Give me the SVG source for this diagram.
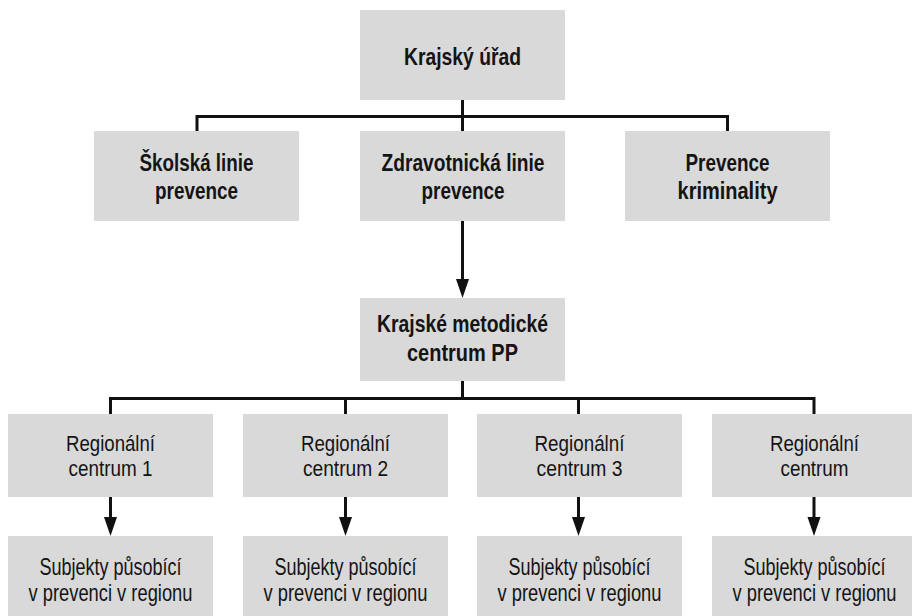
<svg xmlns="http://www.w3.org/2000/svg" width="912" height="616" viewBox="0 0 912 616">
  <style>
    .box { fill: #d9d9d9; }
    text { fill: #141414; text-anchor: middle; font-family: "Liberation Sans", Arial, sans-serif; }
    .b { font-weight: 700; font-size: 24.5px; }
    .r { font-weight: 400; font-size: 22px; }
    .s { font-weight: 400; font-size: 23px; }
    .ln { fill: none; stroke: #111; stroke-width: 3; }
  </style>
  <defs>
    <marker id="arr" markerUnits="userSpaceOnUse" markerWidth="20" markerHeight="16" refX="0" refY="7" orient="auto" viewBox="0 0 20 14">
      <path d="M0,0.5 L19,7 L0,13.5 z" fill="#111"/>
    </marker>
  </defs>
  <rect width="912" height="616" fill="#fff"/>

  <g id="connectors">
    <path class="ln" d="M462.5,100 V131 M197,131 V116.5 H727.5 V131"/>
    <line class="ln" x1="462.5" y1="221" x2="462.5" y2="279" marker-end="url(#arr)"/>
    <path class="ln" d="M462.5,381 V398.5 M110.5,414 V398.5 H814 V414 M345.5,398.5 V414 M578.5,398.5 V414"/>
    <line class="ln" x1="110.5" y1="497" x2="110.5" y2="517" marker-end="url(#arr)"/>
    <line class="ln" x1="345.5" y1="497" x2="345.5" y2="517" marker-end="url(#arr)"/>
    <line class="ln" x1="578.5" y1="497" x2="578.5" y2="517" marker-end="url(#arr)"/>
    <line class="ln" x1="814" y1="497" x2="814" y2="517" marker-end="url(#arr)"/>
  </g>

  <g id="krajsky-urad">
    <rect class="box" x="360" y="10" width="205" height="90"/>
    <text class="b" transform="translate(462.5,0) scale(0.78,1)"><tspan x="0" y="65" textLength="150" lengthAdjust="spacingAndGlyphs">Krajský úřad</tspan></text>
  </g>
  <g id="skolska-linie">
    <rect class="box" x="94" y="131" width="205" height="90"/>
    <text class="b" transform="translate(196.5,0) scale(0.78,1)"><tspan x="0" y="171" textLength="146.2" lengthAdjust="spacingAndGlyphs">Školská linie</tspan><tspan x="0" y="199" textLength="106.4" lengthAdjust="spacingAndGlyphs">prevence</tspan></text>
  </g>
  <g id="zdravotnicka-linie">
    <rect class="box" x="360" y="131" width="205" height="90"/>
    <text class="b" transform="translate(463,0) scale(0.78,1)"><tspan x="0" y="171" textLength="209" lengthAdjust="spacingAndGlyphs">Zdravotnická linie</tspan><tspan x="0" y="199" textLength="106.4" lengthAdjust="spacingAndGlyphs">prevence</tspan></text>
  </g>
  <g id="prevence-kriminality">
    <rect class="box" x="625" y="131" width="205" height="90"/>
    <text class="b" transform="translate(727.5,0) scale(0.78,1)"><tspan x="0" y="171" textLength="107.7" lengthAdjust="spacingAndGlyphs">Prevence</tspan><tspan x="0" y="199" textLength="128.2" lengthAdjust="spacingAndGlyphs">kriminality</tspan></text>
  </g>
  <g id="krajske-metodicke-centrum">
    <rect class="box" x="360" y="298" width="205" height="83"/>
    <text class="b" transform="translate(462.5,0) scale(0.78,1)"><tspan x="0" y="332" textLength="219.2" lengthAdjust="spacingAndGlyphs">Krajské metodické</tspan><tspan x="0" y="361" textLength="142.3" lengthAdjust="spacingAndGlyphs">centrum PP</tspan></text>
  </g>

  <g id="regionalni-centrum-1">
    <rect class="box" x="8" y="414" width="205" height="83"/>
    <text class="r" transform="translate(110.5,0) scale(0.84,1)"><tspan x="0" y="451" textLength="106" lengthAdjust="spacingAndGlyphs">Regionální</tspan><tspan x="0" y="476" textLength="100" lengthAdjust="spacingAndGlyphs">centrum 1</tspan></text>
  </g>
  <g id="regionalni-centrum-2">
    <rect class="box" x="243" y="414" width="205" height="83"/>
    <text class="r" transform="translate(345.5,0) scale(0.84,1)"><tspan x="0" y="451" textLength="106" lengthAdjust="spacingAndGlyphs">Regionální</tspan><tspan x="0" y="476" textLength="101.2" lengthAdjust="spacingAndGlyphs">centrum 2</tspan></text>
  </g>
  <g id="regionalni-centrum-3">
    <rect class="box" x="477" y="414" width="205" height="83"/>
    <text class="r" transform="translate(579.5,0) scale(0.84,1)"><tspan x="0" y="451" textLength="107.1" lengthAdjust="spacingAndGlyphs">Regionální</tspan><tspan x="0" y="476" textLength="102.4" lengthAdjust="spacingAndGlyphs">centrum 3</tspan></text>
  </g>
  <g id="regionalni-centrum-4">
    <rect class="box" x="712" y="414" width="200" height="83"/>
    <text class="r" transform="translate(814.5,0) scale(0.84,1)"><tspan x="0" y="451" textLength="106" lengthAdjust="spacingAndGlyphs">Regionální</tspan><tspan x="0" y="476" textLength="81" lengthAdjust="spacingAndGlyphs">centrum</tspan></text>
  </g>

  <g id="subjekty-1">
    <rect class="box" x="8" y="536" width="205" height="80"/>
    <text class="s" transform="translate(110.5,0) scale(0.79,1)"><tspan x="0" y="575" textLength="179.7" lengthAdjust="spacingAndGlyphs">Subjekty působící</tspan><tspan x="0" y="601" textLength="207.6" lengthAdjust="spacingAndGlyphs">v prevenci v regionu</tspan></text>
  </g>
  <g id="subjekty-2">
    <rect class="box" x="243" y="536" width="205" height="80"/>
    <text class="s" transform="translate(345.5,0) scale(0.79,1)"><tspan x="0" y="575" textLength="179.7" lengthAdjust="spacingAndGlyphs">Subjekty působící</tspan><tspan x="0" y="601" textLength="207.6" lengthAdjust="spacingAndGlyphs">v prevenci v regionu</tspan></text>
  </g>
  <g id="subjekty-3">
    <rect class="box" x="477" y="536" width="205" height="80"/>
    <text class="s" transform="translate(579.5,0) scale(0.79,1)"><tspan x="0" y="575" textLength="179.7" lengthAdjust="spacingAndGlyphs">Subjekty působící</tspan><tspan x="0" y="601" textLength="207.6" lengthAdjust="spacingAndGlyphs">v prevenci v regionu</tspan></text>
  </g>
  <g id="subjekty-4">
    <rect class="box" x="712" y="536" width="200" height="80"/>
    <text class="s" transform="translate(814.5,0) scale(0.79,1)"><tspan x="0" y="575" textLength="179.7" lengthAdjust="spacingAndGlyphs">Subjekty působící</tspan><tspan x="0" y="601" textLength="207.6" lengthAdjust="spacingAndGlyphs">v prevenci v regionu</tspan></text>
  </g>
</svg>
